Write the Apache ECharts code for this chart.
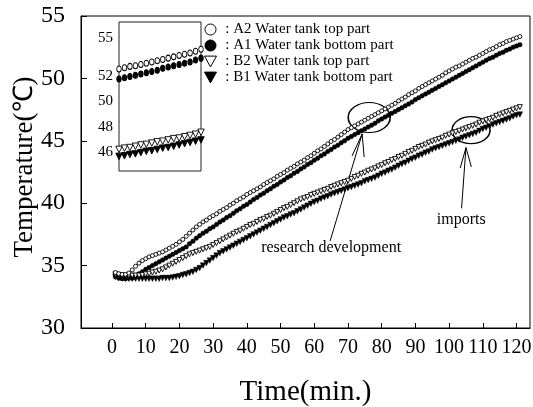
<!DOCTYPE html>
<html>
<head>
<meta charset="utf-8">
<script src="https://cdn.jsdelivr.net/npm/echarts@6/dist/echarts.min.js"></script>
<style>
  html, body { margin: 0; padding: 0; background: #fff; }
  #chart { width: 533px; height: 407px; }
</style>
</head>
<body>
<div id="chart"></div>
<script>
// Elapsed time of each reading (min)
const minutes = [1,2,3,4,5,6,7,8,9,10,11,12,13,14,15,16,17,18,19,20,21,22,23,24,25,26,27,28,29,30,
  31,32,33,34,35,36,37,38,39,40,41,42,43,44,45,46,47,48,49,50,51,52,53,54,55,56,57,58,59,60,
  61,62,63,64,65,66,67,68,69,70,71,72,73,74,75,76,77,78,79,80,81,82,83,84,85,86,87,88,89,90,
  91,92,93,94,95,96,97,98,99,100,101,102,103,104,105,106,107,108,109,110,111,112,113,114,115,116,117,118,119,120,121];

// A2: water tank, top part (°C)
const a2Top = [34.45,34.35,34.3,34.3,34.4,34.65,34.95,35.2,35.4,35.55,35.7,35.8,35.9,36.0,36.1,36.25,36.4,36.55,36.7,36.9,
  37.1,37.35,37.6,37.85,38.1,38.3,38.5,38.65,38.85,39.0,39.15,39.35,39.5,39.65,39.85,40.0,40.2,40.35,40.5,40.7,
  40.85,41.0,41.15,41.3,41.5,41.65,41.8,41.95,42.15,42.3,42.45,42.65,42.8,42.95,43.15,43.3,43.45,43.65,43.8,44.0,
  44.2,44.35,44.55,44.75,44.95,45.1,45.3,45.5,45.7,45.9,46.05,46.2,46.35,46.5,46.65,46.8,46.95,47.1,47.25,47.4,
  47.55,47.7,47.85,48.0,48.2,48.35,48.5,48.7,48.85,49.0,49.2,49.35,49.5,49.65,49.8,49.95,50.1,50.25,50.45,50.6,
  50.75,50.9,51.0,51.15,51.3,51.45,51.6,51.7,51.85,52.0,52.15,52.3,52.4,52.55,52.7,52.8,52.95,53.05,53.15,53.25,53.35];

// A1: water tank, bottom part (°C)
const a1Bottom = [34.1,34.0,33.95,33.95,34.0,34.0,34.15,34.35,34.5,34.7,34.85,35.0,35.15,35.3,35.45,35.6,35.75,35.9,36.05,36.2,
  36.35,36.5,36.75,36.95,37.2,37.4,37.6,37.75,37.95,38.1,38.3,38.5,38.65,38.85,39.0,39.2,39.4,39.55,39.75,39.9,
  40.1,40.3,40.45,40.65,40.8,41.0,41.15,41.35,41.5,41.7,41.85,42.05,42.2,42.4,42.55,42.75,42.9,43.1,43.25,43.45,
  43.6,43.8,43.95,44.15,44.3,44.5,44.65,44.85,45.0,45.2,45.35,45.5,45.65,45.8,45.95,46.1,46.25,46.4,46.6,46.75,
  46.9,47.05,47.2,47.35,47.5,47.65,47.8,47.95,48.1,48.3,48.45,48.6,48.75,48.9,49.05,49.2,49.35,49.5,49.65,49.8,
  49.95,50.1,50.25,50.4,50.55,50.7,50.85,51.0,51.15,51.3,51.45,51.6,51.7,51.85,52.0,52.1,52.25,52.35,52.5,52.6,52.7];

// B2: water tank, top part (°C)
const b2Top = [34.3,34.25,34.2,34.2,34.2,34.2,34.2,34.2,34.25,34.3,34.35,34.45,34.5,34.6,34.7,34.85,35.0,35.15,35.3,35.45,
  35.6,35.75,35.9,36.0,36.1,36.2,36.3,36.4,36.5,36.65,36.8,36.95,37.1,37.25,37.4,37.55,37.7,37.8,37.95,38.1,
  38.25,38.35,38.5,38.65,38.75,38.9,39.0,39.15,39.3,39.45,39.6,39.7,39.85,40.0,40.15,40.3,40.4,40.5,40.65,40.75,
  40.85,40.95,41.05,41.15,41.3,41.4,41.5,41.6,41.7,41.8,41.95,42.1,42.2,42.35,42.45,42.6,42.7,42.8,42.95,43.05,
  43.2,43.3,43.45,43.55,43.7,43.8,43.95,44.1,44.2,44.35,44.5,44.6,44.7,44.85,44.95,45.05,45.15,45.25,45.4,45.5,
  45.6,45.7,45.8,45.9,46.0,46.1,46.2,46.3,46.45,46.55,46.65,46.75,46.85,47.0,47.1,47.2,47.3,47.4,47.5,47.6,47.7];

// B1: water tank, bottom part (°C)
const b1Bottom = [34.1,34.0,34.0,33.95,33.95,33.95,33.95,33.95,33.95,33.95,33.95,33.95,33.95,33.95,34.0,34.0,34.0,34.05,34.1,34.15,
  34.25,34.3,34.4,34.5,34.65,34.8,35.0,35.2,35.4,35.6,35.8,36.0,36.15,36.3,36.45,36.6,36.75,36.9,37.05,37.2,
  37.35,37.5,37.65,37.8,37.95,38.1,38.25,38.4,38.55,38.7,38.85,38.95,39.1,39.2,39.35,39.5,39.65,39.8,39.95,40.1,
  40.2,40.35,40.45,40.55,40.7,40.8,40.9,41.0,41.1,41.2,41.3,41.4,41.5,41.6,41.75,41.85,41.95,42.05,42.2,42.35,
  42.45,42.6,42.7,42.85,43.0,43.15,43.25,43.4,43.55,43.65,43.8,43.9,44.05,44.15,44.3,44.4,44.5,44.6,44.7,44.8,
  44.9,45.0,45.1,45.25,45.35,45.45,45.55,45.65,45.8,45.95,46.05,46.15,46.3,46.4,46.5,46.6,46.7,46.8,46.95,47.05,47.1];

// Enlarged detail panel
const insetIndex = [0,1,2,3,4,5,6,7,8,9,10,11,12,13,14,15];
const insetA2 = [52.55,52.65,52.75,52.8,52.9,53.0,53.1,53.2,53.3,53.4,53.5,53.6,53.7,53.8,53.95,54.1];
const insetA1 = [51.75,51.85,51.95,52.05,52.15,52.25,52.35,52.45,52.6,52.7,52.8,52.9,53.0,53.1,53.25,53.4];
const insetB2 = [46.2,46.3,46.35,46.45,46.55,46.6,46.7,46.8,46.85,46.95,47.05,47.1,47.2,47.3,47.4,47.55];
const insetB1 = [45.65,45.7,45.8,45.85,45.95,46.05,46.1,46.2,46.3,46.35,46.45,46.55,46.65,46.75,46.85,46.95];
const insetTicks = [55, 52, 50, 48, 46];

const xTicks = [0,10,20,30,40,50,60,70,80,90,100,110,120];
const seriesNames = ['A2 Water tank top part', 'A1 Water tank bottom part', 'B2 Water tank top part', 'B1 Water tank bottom part'];

const SERIF = "'Liberation Serif', 'Times New Roman', serif";
const TRI_DOWN = 'path://M0,0L10,0L5,9Z';

const styles = [
  { symbol: 'circle', size: 4, color: '#fff', border: '#000', bw: 0.9 },
  { symbol: 'circle', size: 4.5, color: '#000', border: '#000', bw: 0.5 },
  { symbol: TRI_DOWN, size: 5, color: '#fff', border: '#000', bw: 0.9 },
  { symbol: TRI_DOWN, size: 5.5, color: '#000', border: '#000', bw: 0.5 }
];

const pair = (xs, ys) => xs.map((x, i) => [x, ys[i]]);
const mainData = [pair(minutes, a2Top), pair(minutes, a1Bottom), pair(minutes, b2Top), pair(minutes, b1Bottom)];
const insetData = [pair(insetIndex, insetA2), pair(insetIndex, insetA1), pair(insetIndex, insetB2), pair(insetIndex, insetB1)];

// draw filled markers first so the open markers sit on top
const drawOrder = [3, 1, 2, 0];
const series = [];
drawOrder.forEach(k => {
  const s = styles[k];
  series.push({
    type: 'scatter', name: seriesNames[k], xAxisIndex: 0, yAxisIndex: 0,
    data: mainData[k], symbol: s.symbol, symbolSize: s.size,
    itemStyle: { color: s.color, borderColor: s.border, borderWidth: s.bw, opacity: 1 },
    emphasis: { disabled: true }, silent: true, animation: false
  });
});
drawOrder.forEach(k => {
  const s = styles[k];
  series.push({
    type: 'scatter', name: seriesNames[k], xAxisIndex: 1, yAxisIndex: 1,
    data: insetData[k], symbol: s.symbol,
    symbolSize: s.symbol === 'circle' ? [4.5, 6] : 6.5,
    itemStyle: { color: s.color, borderColor: s.border, borderWidth: 0.9, opacity: 1 },
    emphasis: { disabled: true }, silent: true, animation: false
  });
});

const chart = echarts.init(document.getElementById('chart'), null, { renderer: 'canvas' });

chart.setOption({
  animation: false,
  backgroundColor: '#fff',
  textStyle: { fontFamily: SERIF, color: '#000' },
  grid: [
    { left: 81, top: 16, right: 3, bottom: 79, outerBoundsMode: 'none', containLabel: false,
      show: true, borderColor: '#000', borderWidth: 1, backgroundColor: 'transparent' },
    { left: 119, top: 22, width: 82, height: 149, outerBoundsMode: 'none', containLabel: false,
      show: true, borderColor: '#222', borderWidth: 1, backgroundColor: 'transparent' }
  ],
  xAxis: [
    {
      type: 'value', gridIndex: 0, min: -9.2, max: 124,
      name: 'Time(min.)', nameLocation: 'middle', nameGap: 50, nameMoveOverlap: false,
      nameTextStyle: { fontFamily: SERIF, fontSize: 29, color: '#000' },
      axisLine: { onZero: false, lineStyle: { color: '#000', width: 1 } },
      axisTick: { inside: true, length: 5, customValues: xTicks, lineStyle: { color: '#000' } },
      axisLabel: { customValues: xTicks, fontFamily: SERIF, fontSize: 20, color: '#000', margin: 10 },
      splitLine: { show: false }
    },
    {
      type: 'value', gridIndex: 1, min: 0, max: 15,
      axisLine: { show: false, onZero: false }, axisTick: { show: false }, axisLabel: { show: false }, splitLine: { show: false }
    }
  ],
  yAxis: [
    {
      type: 'value', gridIndex: 0, min: 30, max: 55, interval: 5,
      name: 'Temperature(℃)', nameLocation: 'middle', nameGap: 43, nameRotate: 90, nameMoveOverlap: false,
      nameTextStyle: { fontFamily: SERIF, fontSize: 27, color: '#000', padding: [0, 0, 0, 10] },
      axisLine: { show: true, onZero: false, lineStyle: { color: '#000', width: 1 } },
      axisTick: { show: true, inside: true, length: 6, lineStyle: { color: '#000' } },
      axisLabel: { fontFamily: SERIF, fontSize: 24, color: '#000', margin: 16 },
      splitLine: { show: false }
    },
    {
      type: 'value', gridIndex: 1, min: 44.5, max: 56.25,
      axisLine: { show: false, onZero: false }, axisTick: { show: false },
      axisLabel: { customValues: insetTicks, fontFamily: SERIF, fontSize: 15, color: '#000', margin: 6 },
      splitLine: { show: false }
    }
  ],
  legend: {
    orient: 'vertical', left: 199, top: 17,
    itemWidth: 12, itemHeight: 11, itemGap: 1,
    selectedMode: false,
    textStyle: { fontFamily: SERIF, fontSize: 15, color: '#000', lineHeight: 11 },
    formatter: name => ' : ' + name,
    data: seriesNames.map((n, k) => ({
      name: n,
      icon: styles[k].symbol,
      itemStyle: { color: styles[k].color, borderColor: '#000', borderWidth: 1 }
    }))
  },
  series: series
});

// Annotations (ellipses, arrows, labels), placed in data coordinates of the main grid
const toPx = (x, y) => chart.convertToPixel({ gridIndex: 0 }, [x, y]);
const ellipses = [
  { c: [76.3, 46.87], rx: 21, ry: 15 },
  { c: [106.5, 45.85], rx: 19, ry: 13.5 }
];
const arrows = [
  { tail: [64.7, 36.97], tip: [74.2, 45.55], armL: [71.2, 43.78], armR: [74.8, 43.7] },
  { tail: [103.7, 39.59], tip: [105.0, 44.46], armL: [103.3, 42.82], armR: [106.6, 42.9] }
];
const notes = [
  { text: 'research development', at: [65.0, 36.41] },
  { text: 'imports', at: [103.6, 38.65] }
];

const graphics = [];
ellipses.forEach(e => {
  const p = toPx(e.c[0], e.c[1]);
  graphics.push({
    type: 'circle', x: p[0], y: p[1], scaleY: e.ry / e.rx, silent: true,
    shape: { cx: 0, cy: 0, r: e.rx },
    style: { fill: 'none', stroke: '#000', lineWidth: 1.6, strokeNoScale: true }
  });
});
arrows.forEach(a => {
  const t = toPx(...a.tail), h = toPx(...a.tip), l = toPx(...a.armL), r = toPx(...a.armR);
  graphics.push({ type: 'polyline', silent: true, shape: { points: [t, h] }, style: { stroke: '#000', lineWidth: 1, fill: null } });
  graphics.push({ type: 'polyline', silent: true, shape: { points: [l, h, r] }, style: { stroke: '#000', lineWidth: 1, fill: null } });
});
notes.forEach(n => {
  const p = toPx(...n.at);
  graphics.push({
    type: 'text', x: p[0], y: p[1], silent: true,
    style: { text: n.text, fontFamily: SERIF, fontSize: 16, fill: '#000', align: 'center', verticalAlign: 'middle' }
  });
});
chart.setOption({ graphic: graphics });
</script>
</body>
</html>
